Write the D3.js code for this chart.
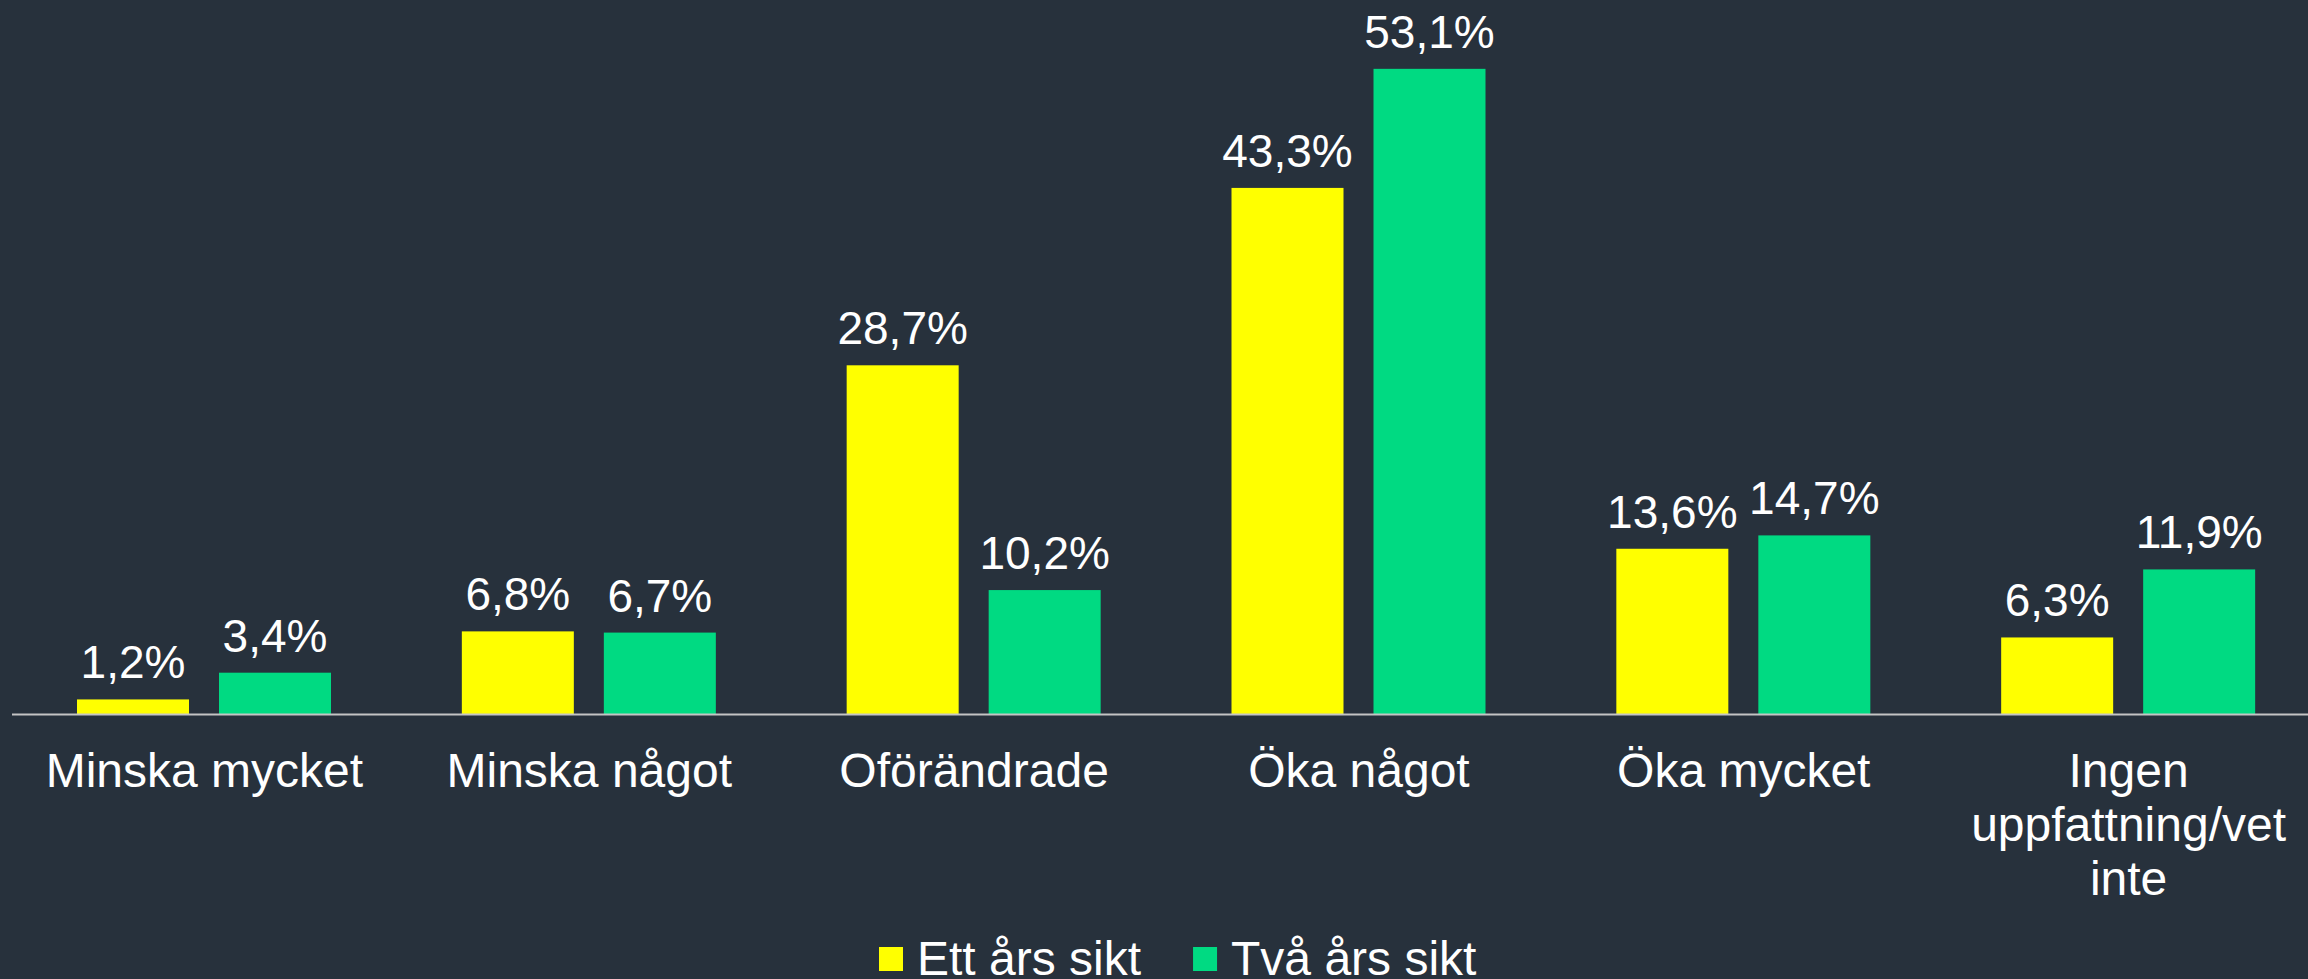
<!DOCTYPE html>
<html>
<head>
<meta charset="utf-8">
<script src="https://cdn.jsdelivr.net/npm/d3@7"></script>
<style>
  html, body { margin: 0; padding: 0; background: #27313c; }
  svg { display: block; }
  text { font-family: "Liberation Sans", Arial, sans-serif; fill: #ffffff; }
</style>
</head>
<body>
<div id="chart"></div>
<script>
var categories = ['Minska mycket', 'Minska något', 'Oförändrade', 'Öka något', 'Öka mycket', 'Ingen uppfattning/vet inte']
var seriesNames = ['Ett års sikt', 'Två års sikt']
var ettAr = [1.2, 6.8, 28.7, 43.3, 13.6, 6.3]
var tvaAr = [3.4, 6.7, 10.2, 53.1, 14.7, 11.9]
var seriesColors = ['#ffff00', '#00da82']

var svgWidth = 2308, svgHeight = 979
var baseY = 714

var svg = d3.select('#chart').append('svg')
    .attr('width', svgWidth)
    .attr('height', svgHeight)

svg.append('rect')
    .attr('width', svgWidth)
    .attr('height', svgHeight)
    .attr('fill', '#27313c')

var x0 = d3.scaleBand()
    .domain(categories)
    .range([12, 2321])
    .padding(0)

var x1 = d3.scaleBand()
    .domain(seriesNames)
    .range([65, 319])
    .paddingInner(30 / 142)

var y = d3.scaleLinear()
    .domain([0, 60])
    .range([baseY, baseY - 729])

var rows = categories.map(function(c, i) {
    return {cat: c, values: [
	{name: seriesNames[0], v: ettAr[i], color: seriesColors[0]},
	{name: seriesNames[1], v: tvaAr[i], color: seriesColors[1]}
    ]}
})

var groups = svg.selectAll('g.grp')
    .data(rows)
    .enter()
    .append('g')
    .attr('class', 'grp')
    .attr('transform', function(d) {return 'translate(' + x0(d.cat) + ',0)';})

groups.selectAll('rect')
    .data(function(d) {return d.values;})
    .enter()
    .append('rect')
    .attr('x', function(d) {return x1(d.name);})
    .attr('y', function(d) {return y(d.v);})
    .attr('width', x1.bandwidth())
    .attr('height', function(d) {return baseY - y(d.v);})
    .attr('fill', function(d) {return d.color;})

groups.selectAll('text.val')
    .data(function(d) {return d.values;})
    .enter()
    .append('text')
    .attr('class', 'val')
    .attr('x', function(d) {return x1(d.name) + x1.bandwidth() / 2;})
    .attr('y', function(d) {return y(d.v) - 21;})
    .attr('text-anchor', 'middle')
    .style('font-size', '46px')
    .text(function(d) {return d.v.toFixed(1).replace('.', ',') + '%';})

// baseline
svg.append('line')
    .attr('x1', 12)
    .attr('x2', svgWidth)
    .attr('y1', baseY + 0.5)
    .attr('y2', baseY + 0.5)
    .attr('stroke', '#c4c4c4')
    .attr('stroke-width', 2)

// category labels, wrapped
var catLabels = svg.selectAll('text.cat')
    .data(categories)
    .enter()
    .append('text')
    .attr('class', 'cat')
    .attr('text-anchor', 'middle')
    .style('font-size', '48px')
    .attr('x', function(d) {return x0(d) + x0.bandwidth() / 2;})
    .attr('y', 787)

catLabels.each(function(d) {
    var el = d3.select(this)
    var cx = x0(d) + x0.bandwidth() / 2
    var words = d.split(' ')
    var line = []
    var lineNo = 0
    var tspan = el.append('tspan').attr('x', cx).attr('dy', 0)
    words.forEach(function(w) {
	line.push(w)
	tspan.text(line.join(' '))
	if (tspan.node().getComputedTextLength() > 370 && line.length > 1) {
	    line.pop()
	    tspan.text(line.join(' '))
	    line = [w]
	    lineNo++
	    tspan = el.append('tspan').attr('x', cx).attr('dy', 54).text(w)
	}
    })
})

// legend
var legend = svg.append('g')
var lx = 879
seriesNames.forEach(function(name, i) {
    legend.append('rect')
	.attr('x', lx)
	.attr('y', 947)
	.attr('width', 24)
	.attr('height', 24)
	.attr('fill', seriesColors[i])
    var t = legend.append('text')
	.attr('x', lx + 38)
	.attr('y', 975)
	.style('font-size', '48px')
	.text(name)
    lx = lx + 38 + t.node().getComputedTextLength() + 52
})
</script>
</body>
</html>
